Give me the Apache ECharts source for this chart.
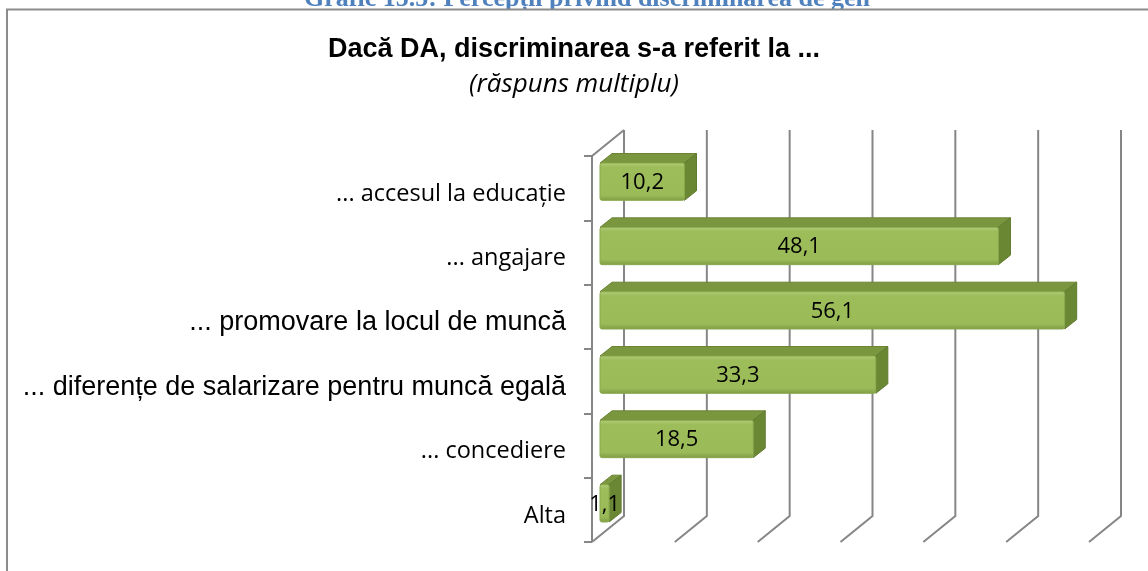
<!DOCTYPE html>
<html>
<head>
<meta charset="utf-8">
<script src="https://cdn.jsdelivr.net/npm/echarts@6/dist/echarts.min.js"></script>
<style>
  html, body { margin: 0; padding: 0; background: #fff; }
  #main { width: 1148px; height: 571px; }
</style>
</head>
<body>
<div id="main"></div>
<script>
// categories, top to bottom
const categories = [
  '... accesul la educație',
  '... angajare',
  '... promovare la locul de muncă',
  '... diferențe de salarizare pentru muncă egală',
  '... concediere',
  'Alta'
];
const values = [10.2, 48.1, 56.1, 33.3, 18.5, 1.1];
const gridTicks = [0, 10, 20, 30, 40, 50, 60];

var chartDom = document.getElementById('main');
var myChart = echarts.init(chartDom);
var option;

// 3d look: depth of the plot box and of the bars
const wallDx = 32, wallDy = -26;
const barOffX = 8, barOffY = -6.5;
const barDx = 12, barDy = -9.5;
const gridColor = '#868686';

function renderGrid(params, api) {
  const cs = params.coordSys;
  const v = api.value(0);
  const xf = api.coord([v, 0])[0];
  const xb = xf + wallDx;
  const top = cs.y, bottom = cs.y + cs.height;
  const children = [{
    type: 'polyline',
    shape: { points: [[xb, top + wallDy], [xb, bottom + wallDy], [xf, bottom]] },
    style: { stroke: gridColor, lineWidth: 2, fill: null }
  }];
  if (v === 0) {
    // left wall
    children.push({
      type: 'polyline',
      shape: { points: [[xb, top + wallDy], [xf, top], [xf, bottom]] },
      style: { stroke: gridColor, lineWidth: 2, fill: null }
    });
  }
  return { type: 'group', children: children };
}

function renderBar(params, api) {
  const v = api.value(0);
  const idx = api.value(1);
  const start = api.coord([0, idx]);
  const end = api.coord([v, idx]);
  const band = api.size([0, 1])[1];
  const h = band * 0.58;
  const x0 = start[0] + barOffX;
  const x1 = end[0] + barOffX;
  const y0 = start[1] + barOffY - h / 2;
  const y1 = y0 + h;
  return {
    type: 'group',
    children: [
      {
        type: 'polygon',
        shape: { points: [[x0, y0], [x1, y0], [x1 + barDx, y0 + barDy], [x0 + barDx, y0 + barDy]] },
        style: { fill: '#7A963F', stroke: '#6B8535', lineWidth: 1 }
      },
      {
        type: 'polygon',
        shape: { points: [[x1, y0], [x1 + barDx, y0 + barDy], [x1 + barDx, y1 + barDy], [x1, y1]] },
        style: { fill: '#6A8834', stroke: '#5F7A2E', lineWidth: 1 }
      },
      {
        type: 'rect',
        shape: { x: x0, y: y0, width: x1 - x0, height: h, r: 2 },
        style: {
          fill: new echarts.graphic.LinearGradient(0, 0, 0, 1, [
            { offset: 0, color: '#B3CF7A' },
            { offset: 0.12, color: '#9DBD5B' },
            { offset: 0.85, color: '#9BBB59' },
            { offset: 1, color: '#7E9C43' }
          ]),
          stroke: '#8AA84C', lineWidth: 1
        }
      },
      {
        type: 'text',
        style: {
          text: String(v).replace('.', ','),
          x: (x0 + x1) / 2, y: (y0 + y1) / 2 + 1,
          align: 'center', verticalAlign: 'middle',
          fill: '#000', font: '22px "Open Sans"'
        }
      }
    ]
  };
}

option = {
  animation: false,
  title: [
    {
      text: 'Dacă DA, discriminarea s-a referit la ...',
      left: 'center',
      top: 31,
      textStyle: { fontFamily: 'Liberation Sans', fontWeight: 'bold', fontSize: 27, color: '#000' }
    },
    {
      text: '(răspuns multiplu)',
      left: 'center',
      top: 67,
      textStyle: { fontFamily: 'Open Sans', fontStyle: 'italic', fontWeight: 'normal', fontSize: 26, color: '#000' }
    }
  ],
  graphic: [
    {
      type: 'text', z: 0,
      style: { text: 'Grafic 15.5: Percepții privind discriminarea de gen', fill: '#4F81BD',
        x: 587, y: 12, align: 'center', verticalAlign: 'bottom',
        font: 'bold 26px "Liberation Serif"' }
    },
    { type: 'rect', z: 1, shape: { x: 0, y: 9, width: 1148, height: 3 }, style: { fill: '#fff' } },
    { type: 'line', z: 2, shape: { x1: 6, y1: 9.5, x2: 1148, y2: 9.5 }, style: { stroke: '#8C8C8C', lineWidth: 2 } },
    { type: 'line', z: 2, shape: { x1: 7, y1: 9, x2: 7, y2: 571 }, style: { stroke: '#8C8C8C', lineWidth: 2 } }
  ],
  grid: {
    left: 592,
    right: 59,
    top: 156,
    bottom: 29,
    containLabel: false
  },
  xAxis: {
    type: 'value',
    min: 0, max: 60, interval: 10,
    axisLine: { show: false },
    axisTick: { show: false },
    axisLabel: { show: false },
    splitLine: { show: false }
  },
  yAxis: {
    type: 'category',
    inverse: true,
    data: categories,
    axisLine: { show: false },
    axisTick: { show: true, length: 8, lineStyle: { color: gridColor, width: 2 } },
    axisLabel: {
      margin: 26,
      padding: [12, 0, 0, 0],
      formatter: function (val, i) {
        return (i === 2 || i === 3) ? '{b|' + val + '}' : '{a|' + val + '}';
      },
      rich: {
        a: { fontFamily: 'Open Sans', fontSize: 23.5, color: '#000' },
        b: { fontFamily: 'Liberation Sans', fontSize: 27, color: '#000' }
      }
    },
    splitLine: { show: false }
  },
  series: [
    {
      type: 'custom',
      renderItem: renderGrid,
      data: gridTicks.map(function (t) { return [t]; }),
      encode: { x: 0 },
      silent: true,
      z: 1
    },
    {
      type: 'custom',
      renderItem: renderBar,
      data: values.map(function (v, i) { return [v, i]; }),
      encode: { x: 0, y: 1 },
      z: 2
    }
  ]
};

option && myChart.setOption(option);
</script>
</body>
</html>
